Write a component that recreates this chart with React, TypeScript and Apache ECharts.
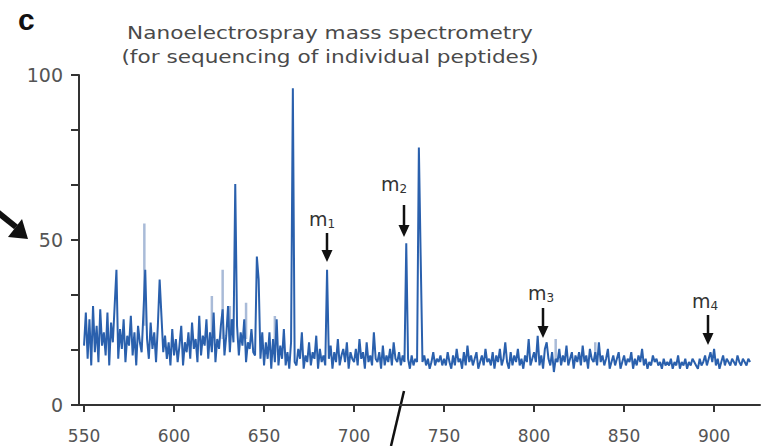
import React, { useEffect, useRef } from "react";
import * as echarts from "echarts";

// m/z start (step 1) and measured intensity (%)
const mzStart = 550;
const intensity: number[] = [
  18, 28, 14, 26, 12, 30, 16, 24, 13, 29, 18, 22, 15, 28, 12, 25, 19, 30, 41, 14, 23, 17, 26, 13, 21,
  18, 27, 15, 22, 12, 24, 19, 16, 28, 41, 20, 14, 25, 17, 22, 13, 24, 38, 27, 16, 21, 14, 19, 12, 23,
  15, 20, 13, 18, 24, 12, 19, 16, 22, 14, 25, 17, 20, 13, 27, 15, 21, 18, 26, 14, 22, 16, 28, 13, 20,
  17, 24, 29, 15, 21, 30, 16, 26, 19, 67, 24, 15, 22, 18, 26, 13, 19, 17, 23, 16, 15, 45, 38, 14, 22,
  12, 19, 14, 22, 11, 20, 13, 26, 12, 18, 14, 23, 12, 16, 11, 19, 96, 13, 12, 17, 14, 22, 11, 15, 13,
  19, 12, 16, 14, 21, 11, 17, 13, 15, 12, 41, 14, 18, 11, 16, 13, 20, 12, 15, 17, 13, 19, 11, 16, 14,
  13, 17, 12, 20, 14, 16, 11, 19, 13, 15, 12, 22, 14, 13, 16, 11, 18, 12, 15, 13, 17, 12, 19, 14, 13,
  16, 12, 15, 13, 49, 14, 11, 15, 12, 14, 13, 78, 45, 13, 15, 12, 14, 11, 13, 16, 12, 14, 13, 15, 12,
  14, 12, 16, 13, 11, 15, 12, 17, 13, 14, 11, 16, 12, 18, 13, 15, 12, 14, 16, 11, 13, 15, 12, 17, 13,
  14, 12, 16, 11, 15, 13, 17, 12, 14, 19, 13, 11, 16, 12, 15, 13, 17, 12, 14, 11, 15, 13, 20, 12, 14,
  16, 13, 21, 12, 15, 11, 17, 19, 14, 12, 16, 10, 14, 13, 17, 12, 15, 13, 18, 12, 14, 16, 11, 15, 13,
  16, 12, 18, 13, 15, 11, 17, 14, 13, 16, 12, 19, 13, 15, 12, 14, 17, 11, 13, 15, 12, 14, 16, 11, 13,
  15, 12, 14, 13, 16, 11, 14, 12, 15, 13, 17, 12, 14, 11, 13, 12, 15, 13, 14, 12, 13, 11, 14, 12, 13,
  12, 14, 11, 13, 12, 15, 11, 13, 12, 14, 11, 13, 12, 14, 13, 12, 11, 14, 12, 13, 15, 12, 14, 16, 13,
  17, 12, 14, 11, 13, 15, 12, 14, 13, 12, 14, 13, 12, 15, 13, 12, 14, 13, 12, 14, 13,
];

// lighter (overlapping) spikes: position, foot and top
const lightMz = [583.5, 627, 621, 631, 640, 656, 812, 834];
const lightBase = [24, 20, 18, 19, 20, 16, 13, 13];
const lightVal = [55, 41, 33, 30, 31, 27, 20, 19];

const xTicks = [550, 600, 650, 700, 750, 800, 850, 900];
const yTickStep = 100 / 6;
const yLabels = [0, 50, 100];

// annotated peaks
const markLabels = ["1", "2", "3", "4"];
const markTop = [262, 237, 338, 345];

export default function App() {
  const ref = useRef<HTMLDivElement>(null);
  useEffect(() => {
    if (!ref.current) return;
    const chart = echarts.init(ref.current, null, { renderer: "svg" });
    const lineData = intensity.map((v, i) => [mzStart + i, v]);
    const lightData: any[] = [];
    lightMz.forEach((m, i) => {
      lightData.push([m, lightBase[i]], [m, lightVal[i]], [m, "-"]);
    });
    const ink = "#555";
    const font = "DejaVu Sans";

    const graphics: any[] = [
      { type: "text", left: 18, top: 4, style: { text: "c", font: "bold 30px Liberation Sans", fill: "#111" } },
      {
        type: "text", x: 330, y: 33, scaleX: 1.2,
        style: { text: "Nanoelectrospray mass spectrometry", font: `18px ${font}`, fill: "#4a4a4a", align: "center", verticalAlign: "middle" },
      },
      {
        type: "text", x: 330, y: 57, scaleX: 1.2,
        style: { text: "(for sequencing of individual peptides)", font: `18px ${font}`, fill: "#4a4a4a", align: "center", verticalAlign: "middle" },
      },
      // left pointer arrow
      { type: "line", shape: { x1: -4, y1: 211, x2: 16, y2: 227 }, style: { stroke: "#111", lineWidth: 6 } },
      { type: "polygon", shape: { points: [[28, 239], [8, 237], [22, 219]] }, style: { fill: "#111" } },
      // axis break slash
      { type: "line", shape: { x1: 391, y1: 446, x2: 404, y2: 391 }, style: { stroke: "#111", lineWidth: 2.5 } },
    ];

    const mk = [
      { x: 327, shaftTop: 233 },
      { x: 404, shaftTop: 205 },
      { x: 543, shaftTop: 308 },
      { x: 708, shaftTop: 315 },
    ];
    const lbl = [
      { x: 322, y: 219 },
      { x: 394, y: 184 },
      { x: 541, y: 293 },
      { x: 705, y: 301 },
    ];
    mk.forEach((a, i) => {
      const tip = markTop[i];
      graphics.push({ type: "line", shape: { x1: a.x, y1: a.shaftTop, x2: a.x, y2: tip - 8 }, style: { stroke: "#111", lineWidth: 2.5 } });
      graphics.push({ type: "polygon", shape: { points: [[a.x - 5.5, tip - 12], [a.x + 5.5, tip - 12], [a.x, tip]] }, style: { fill: "#111" } });
      graphics.push({
        type: "text", x: lbl[i].x, y: lbl[i].y,
        style: {
          text: `{m|m}{s|${markLabels[i]}}`, align: "center", verticalAlign: "middle",
          rich: {
            m: { font: `19px ${font}`, fill: "#333" },
            s: { font: `12px ${font}`, fill: "#333", padding: [10, 0, 0, 0] },
          },
        },
      });
    });

    chart.setOption({
      animation: false,
      grid: { left: 79, top: 75, width: 681, height: 330, containLabel: false },
      xAxis: {
        type: "value",
        min: 547.2,
        max: 925.5,
        splitLine: { show: false },
        axisLine: { show: true, lineStyle: { color: "#333", width: 2 } },
        axisTick: { show: true, length: 7, customValues: xTicks, lineStyle: { color: "#333", width: 2 } },
        axisLabel: { customValues: xTicks, color: ink, fontFamily: font, fontSize: 17, margin: 22 },
      },
      yAxis: {
        type: "value",
        min: 0,
        max: 100,
        interval: yTickStep,
        splitLine: { show: false },
        axisLine: { show: true, lineStyle: { color: "#333", width: 2 } },
        axisTick: { show: true, inside: false, length: 8, lineStyle: { color: "#333", width: 2 } },
        axisLabel: {
          color: ink, fontFamily: font, fontSize: 19, margin: 16,
          formatter: (v: number) => {
            const hit = yLabels.find((l) => Math.abs(l - v) < 0.01);
            return hit === undefined ? "" : String(hit);
          },
        },
      },
      series: [
        {
          type: "line",
          data: lightData,
          showSymbol: false,
          connectNulls: false,
          lineStyle: { color: "#a9bbd8", width: 2.5 },
          z: 1,
        },
        {
          type: "line",
          data: lineData,
          showSymbol: false,
          lineStyle: { color: "#2a60ad", width: 2 },
          z: 2,
        },
      ],
      graphic: graphics,
    });
    return () => chart.dispose();
  }, []);
  return <div ref={ref} style={{ width: 767, height: 446, position: "absolute", left: 0, top: 0 }} />;
}
